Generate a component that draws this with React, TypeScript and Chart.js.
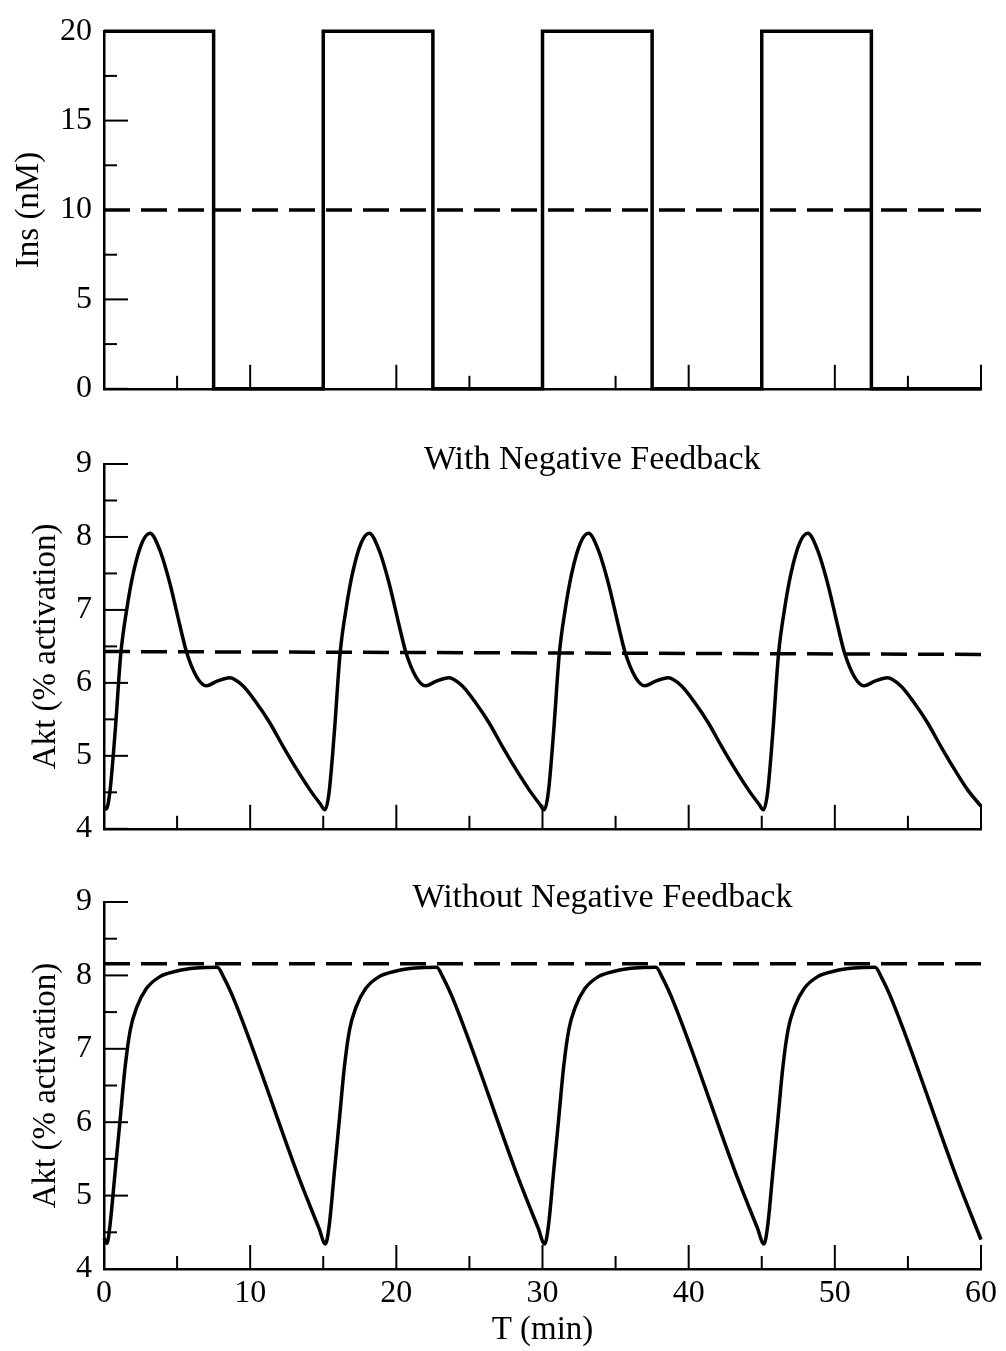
import React, { useEffect, useRef } from "react";
import { Chart, registerables } from "chart.js";

Chart.register(...registerables);

// ---------- axis ranges & ticks ----------
const T_RANGE = [0, 60];
const X_MAJOR = [0, 10, 20, 30, 40, 50, 60];
const X_MINOR = [5, 15, 25, 35, 45, 55];
const INS_RANGE = [0, 20];
const INS_MAJOR = [0, 5, 10, 15, 20];
const INS_MINOR = [2.5, 7.5, 12.5, 17.5];
const AKT_RANGE = [4, 9];
const AKT_MAJOR = [4, 5, 6, 7, 8, 9];
const AKT_MINOR = [4.5, 5.5, 6.5, 7.5, 8.5];

// ---------- panel 1: insulin input ----------
const INS_T = [0, 7.5, 7.5, 15, 15, 22.5, 22.5, 30, 30, 37.5, 37.5, 45, 45, 52.5, 52.5, 60];
const INS_V = [20, 20, 0, 0, 20, 20, 0, 0, 20, 20, 0, 0, 20, 20, 0, 0];
const INS_MEAN_T = [0, 60];
const INS_MEAN_V = [10, 10];

// ---------- panel 2: Akt with negative feedback ----------
const FB_T = [
  0, 0.15, 0.4, 0.75, 1.15, 1.55, 2.0, 2.6, 3.15, 3.8, 4.5, 5.2, 5.65, 6.35, 7.0, 7.7, 8.6, 9.5, 10.45, 11.35, 12.25, 13.2, 14.1, 14.8,
  15.12, 15.4, 15.75, 16.15, 16.55, 17.0, 17.6, 18.15, 18.8, 19.5, 20.2, 20.65, 21.35, 22.0, 22.7, 23.6, 24.5, 25.45, 26.35, 27.25, 28.2, 29.1, 29.8,
  30.12, 30.4, 30.75, 31.15, 31.55, 32.0, 32.6, 33.15, 33.8, 34.5, 35.2, 35.65, 36.35, 37.0, 37.7, 38.6, 39.5, 40.45, 41.35, 42.25, 43.2, 44.1, 44.8,
  45.12, 45.4, 45.75, 46.15, 46.55, 47.0, 47.6, 48.15, 48.8, 49.5, 50.2, 50.65, 51.35, 52.0, 52.7, 53.6, 54.5, 55.45, 56.35, 57.25, 58.2, 59.1, 60.0,
];
const FB_V = [
  4.30, 4.27, 4.50, 5.30, 6.40, 7.00, 7.50, 7.92, 8.05, 7.83, 7.37, 6.78, 6.42, 6.08, 5.96, 6.02, 6.07, 5.96, 5.72, 5.45, 5.13, 4.81, 4.53, 4.34,
  4.26, 4.50, 5.30, 6.40, 7.00, 7.50, 7.92, 8.05, 7.83, 7.37, 6.78, 6.42, 6.08, 5.96, 6.02, 6.07, 5.96, 5.72, 5.45, 5.13, 4.81, 4.53, 4.34,
  4.26, 4.50, 5.30, 6.40, 7.00, 7.50, 7.92, 8.05, 7.83, 7.37, 6.78, 6.42, 6.08, 5.96, 6.02, 6.07, 5.96, 5.72, 5.45, 5.13, 4.81, 4.53, 4.34,
  4.26, 4.50, 5.30, 6.40, 7.00, 7.50, 7.92, 8.05, 7.83, 7.37, 6.78, 6.42, 6.08, 5.96, 6.02, 6.07, 5.96, 5.72, 5.45, 5.13, 4.81, 4.53, 4.31,
];
const FB_MEAN_T = [0, 60];
const FB_MEAN_V = [6.43, 6.39];

// ---------- panel 3: Akt without negative feedback ----------
const NF_T = [
  0, 0.2, 0.4, 0.75, 1.1, 1.45, 1.8, 2.25, 2.9, 3.8, 5.0, 6.3, 7.75, 8.2, 9.0, 13.4, 14.7,
  15.15, 15.4, 15.75, 16.1, 16.45, 16.8, 17.25, 17.9, 18.8, 20.0, 21.3, 22.75, 23.2, 24.0, 28.4, 29.7,
  30.15, 30.4, 30.75, 31.1, 31.45, 31.8, 32.25, 32.9, 33.8, 35.0, 36.3, 37.75, 38.2, 39.0, 43.4, 44.7,
  45.15, 45.4, 45.75, 46.1, 46.45, 46.8, 47.25, 47.9, 48.8, 50.0, 51.3, 52.75, 53.2, 54.0, 58.4, 60.0,
];
const NF_V = [
  4.42, 4.35, 4.58, 5.30, 6.03, 6.76, 7.26, 7.57, 7.82, 7.98, 8.06, 8.10, 8.11, 7.97, 7.62, 5.21, 4.56,
  4.34, 4.58, 5.30, 6.03, 6.76, 7.26, 7.57, 7.82, 7.98, 8.06, 8.10, 8.11, 7.97, 7.62, 5.21, 4.56,
  4.34, 4.58, 5.30, 6.03, 6.76, 7.26, 7.57, 7.82, 7.98, 8.06, 8.10, 8.11, 7.97, 7.62, 5.21, 4.56,
  4.34, 4.58, 5.30, 6.03, 6.76, 7.26, 7.57, 7.82, 7.98, 8.06, 8.10, 8.11, 7.97, 7.62, 5.21, 4.40,
];
const NF_MEAN_T = [0, 60];
const NF_MEAN_V = [8.16, 8.16];

// ---------- text ----------
const INS_LABEL = "Ins (nM)";
const AKT_LABEL = "Akt (% activation)";
const X_LABEL = "T (min)";
const TITLE_FB = "With Negative Feedback";
const TITLE_NF = "Without Negative Feedback";

const FONT = '"Liberation Serif", "DejaVu Serif", serif';

const pts = (xs: number[], ys: number[]) => xs.map((x, i) => ({ x, y: ys[i] }));

const inwardTicks = {
  id: "inwardTicks",
  afterDatasetsDraw(chart: any, _args: any, opts: any) {
    const { ctx, chartArea } = chart;
    const { left, bottom, top } = chartArea;
    const xs = chart.scales.x;
    const ys = chart.scales.y;
    ctx.save();
    ctx.strokeStyle = "#000";
    ctx.lineWidth = 2;
    ctx.lineCap = "butt";
    const drawX = (vals: number[], len: number) => {
      vals.forEach((v) => {
        const px = xs.getPixelForValue(v);
        ctx.beginPath();
        ctx.moveTo(px, bottom);
        ctx.lineTo(px, bottom - len);
        ctx.stroke();
      });
    };
    const drawY = (vals: number[], len: number) => {
      vals.forEach((v) => {
        const py = ys.getPixelForValue(v);
        ctx.beginPath();
        ctx.moveTo(left, py);
        ctx.lineTo(left + len, py);
        ctx.stroke();
      });
    };
    drawX(X_MAJOR, 24);
    drawX(X_MINOR, 13);
    drawY(opts.yMajor, 24);
    drawY(opts.yMinor, 13);
    if (opts.title) {
      ctx.fillStyle = "#000";
      ctx.font = `34px ${FONT}`;
      ctx.textAlign = "center";
      ctx.textBaseline = "alphabetic";
      ctx.fillText(opts.title, xs.getPixelForValue(opts.titleX), top + opts.titleDy);
    }
    ctx.restore();
  },
};

type PanelProps = {
  top: number;
  height: number;
  padTop: number;
  xHeight: number;
  padBottom: number;
  yRange: number[];
  yStep: number;
  yMajor: number[];
  yMinor: number[];
  yLabel: string;
  yLabelPad: number;
  curve: { x: number; y: number }[];
  mean: { x: number; y: number }[];
  smooth: boolean;
  showX: boolean;
  title?: string;
  titleX?: number;
  titleDy?: number;
};

function Panel(p: PanelProps) {
  const ref = useRef<HTMLCanvasElement | null>(null);
  useEffect(() => {
    if (!ref.current) return;
    const chart = new Chart(ref.current, {
      type: "line",
      data: {
        datasets: [
          {
            data: p.curve,
            borderColor: "#000",
            borderWidth: 3.5,
            pointRadius: 0,
            tension: p.smooth ? 0.4 : 0,
            cubicInterpolationMode: p.smooth ? "monotone" : "default",
            borderJoinStyle: "miter",
            fill: false,
            clip: 10,
          } as any,
          {
            data: p.mean,
            borderColor: "#000",
            borderWidth: 3.5,
            borderDash: [26, 11],
            pointRadius: 0,
            tension: 0,
            fill: false,
            clip: 10,
          } as any,
        ],
      },
      plugins: [inwardTicks],
      options: {
        animation: false,
        responsive: false,
        devicePixelRatio: 1,
        events: [],
        layout: { padding: { top: p.padTop, bottom: p.padBottom, left: 0, right: 25 } },
        plugins: {
          legend: { display: false },
          tooltip: { enabled: false },
          inwardTicks: {
            yMajor: p.yMajor,
            yMinor: p.yMinor,
            title: p.title,
            titleX: p.titleX,
            titleDy: p.titleDy,
          },
        } as any,
        scales: {
          x: {
            type: "linear",
            min: T_RANGE[0],
            max: T_RANGE[1],
            grid: { display: false, drawTicks: false },
            border: { display: true, color: "#000", width: 2.5 },
            ticks: {
              display: p.showX,
              stepSize: 10,
              color: "#000",
              padding: 5,
              maxRotation: 0,
              font: { family: FONT, size: 32 },
            },
            title: {
              display: p.showX,
              text: X_LABEL,
              color: "#000",
              font: { family: FONT, size: 33 },
              padding: { top: 0, bottom: 1 },
            },
            afterFit: (s: any) => {
              s.height = p.xHeight;
            },
          },
          y: {
            type: "linear",
            min: p.yRange[0],
            max: p.yRange[1],
            grid: { display: false, drawTicks: false },
            border: { display: true, color: "#000", width: 2.5 },
            ticks: {
              stepSize: p.yStep,
              color: "#000",
              padding: 12,
              font: { family: FONT, size: 32 },
            },
            title: {
              display: true,
              text: p.yLabel,
              color: "#000",
              font: { family: FONT, size: 33 },
              padding: { top: p.yLabelPad, bottom: 0 },
            },
            afterFit: (s: any) => {
              s.width = 104;
            },
          },
        },
      } as any,
    });
    return () => chart.destroy();
  }, []);
  return (
    <canvas
      ref={ref}
      width={1006}
      height={p.height}
      style={{ position: "absolute", left: 0, top: p.top, width: 1006, height: p.height }}
    />
  );
}

export default function App() {
  return (
    <div style={{ position: "absolute", left: 0, top: 0, width: 1006, height: 1351, background: "#fff" }}>
      <Panel
        top={0}
        height={420}
        padTop={24}
        xHeight={10}
        padBottom={21}
        yRange={INS_RANGE}
        yStep={5}
        yMajor={INS_MAJOR}
        yMinor={INS_MINOR}
        yLabel={INS_LABEL}
        yLabelPad={10}
        curve={pts(INS_T, INS_V)}
        mean={pts(INS_MEAN_T, INS_MEAN_V)}
        smooth={false}
        showX={false}
      />
      <Panel
        top={420}
        height={440}
        padTop={44}
        xHeight={10}
        padBottom={21}
        yRange={AKT_RANGE}
        yStep={1}
        yMajor={AKT_MAJOR}
        yMinor={AKT_MINOR}
        yLabel={AKT_LABEL}
        yLabelPad={27}
        curve={pts(FB_T, FB_V)}
        mean={pts(FB_MEAN_T, FB_MEAN_V)}
        smooth={true}
        showX={false}
        title={TITLE_FB}
        titleX={33.4}
        titleDy={5}
      />
      <Panel
        top={860}
        height={491}
        padTop={42}
        xHeight={82}
        padBottom={0}
        yRange={AKT_RANGE}
        yStep={1}
        yMajor={AKT_MAJOR}
        yMinor={AKT_MINOR}
        yLabel={AKT_LABEL}
        yLabelPad={27}
        curve={pts(NF_T, NF_V)}
        mean={pts(NF_MEAN_T, NF_MEAN_V)}
        smooth={true}
        showX={true}
        title={TITLE_NF}
        titleX={34.1}
        titleDy={5}
      />
    </div>
  );
}
